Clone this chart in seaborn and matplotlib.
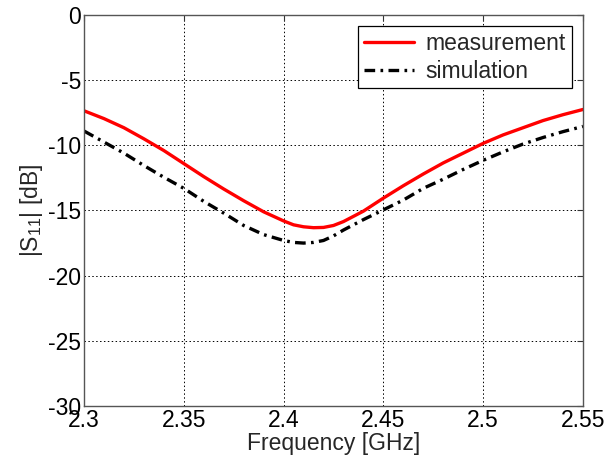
import seaborn as sns
import matplotlib.pyplot as plt
import pandas as pd

# S11 readings, frequency in GHz, magnitude in dB
freq = [2.30, 2.31, 2.32, 2.33, 2.34, 2.35, 2.36, 2.37, 2.38, 2.39, 2.40, 2.405, 2.41, 2.415, 2.42,
        2.425, 2.43, 2.44, 2.45, 2.46, 2.47, 2.48, 2.49, 2.50, 2.51, 2.52, 2.53, 2.54, 2.55]
measurement = [-7.35, -7.95, -8.65, -9.5, -10.4, -11.4, -12.4, -13.35, -14.25, -15.1, -15.8, -16.1, -16.25, -16.32, -16.3,
               -16.15, -15.85, -15.05, -14.05, -13.1, -12.2, -11.35, -10.6, -9.85, -9.2, -8.65, -8.1, -7.65, -7.25]
simulation = [-8.9, -9.75, -10.6, -11.55, -12.45, -13.3, -14.3, -15.2, -16.15, -16.85, -17.3, -17.45, -17.5, -17.45, -17.3,
              -16.95, -16.5, -15.7, -14.95, -14.2, -13.3, -12.6, -11.85, -11.15, -10.5, -9.9, -9.4, -8.95, -8.55]
xticks = [2.3, 2.35, 2.4, 2.45, 2.5, 2.55]
xticklabels = ["2.3", "2.35", "2.4", "2.45", "2.5", "2.55"]
yticks = [0, -5, -10, -15, -20, -25, -30]

df = pd.DataFrame({"freq": freq, "measurement": measurement, "simulation": simulation})

sns.set_style("white")
plt.rcParams['font.family'] = ['Liberation Sans', 'DejaVu Sans']
plt.rcParams['mathtext.default'] = 'regular'
plt.rcParams['axes.unicode_minus'] = False

fig = plt.figure(figsize=(6.06, 4.61), dpi=100)
ax = fig.add_axes([0.1386, 0.1193, 0.8234, 0.8482])

sns.lineplot(data=df, x="freq", y="measurement", ax=ax, color="#ff0000", linewidth=2.4,
             label="measurement")
sns.lineplot(data=df, x="freq", y="simulation", ax=ax, color="black", linewidth=2.4,
             label="simulation", dashes=False)
ax.lines[1].set_dashes([3.2, 1.6, 0.8, 1.6])

ax.set_xlim(2.3, 2.55)
ax.set_ylim(-30, 0)
ax.set_xticks(xticks)
ax.set_xticklabels(xticklabels)
ax.set_yticks(yticks)
ax.grid(True, color="black", linestyle=(0, (1.5, 2.5)), linewidth=0.7)
ax.tick_params(direction="in", length=4, width=0.8, top=True, right=True,
               labelsize=16.5, colors="#333333", labelcolor="black", pad=2)
for s in ax.spines.values():
    s.set_color("#555555")
    s.set_linewidth(1.0)

ax.set_xlabel("Frequency [GHz]", fontsize=16.5, labelpad=0)
ax.set_ylabel("|S$_{11}$| [dB]", fontsize=16.5, labelpad=2)

leg = ax.legend(loc="upper right", fontsize=16.5, frameon=True, fancybox=False,
                edgecolor="black", framealpha=1, borderpad=0.25, handlelength=2.2,
                handletextpad=0.5, labelspacing=0.2, borderaxespad=0.5)
leg.get_frame().set_linewidth(0.9)

fig.savefig("out.png", dpi=100)
